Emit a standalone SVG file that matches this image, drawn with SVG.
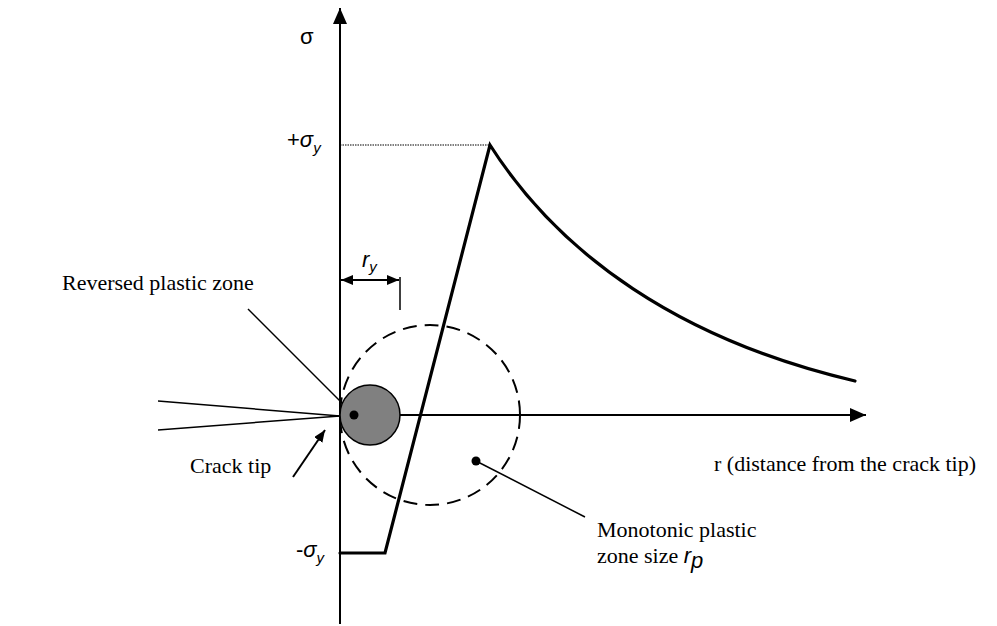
<svg xmlns="http://www.w3.org/2000/svg" width="997" height="626" viewBox="0 0 997 626">
<style>
.ax{stroke:#000;stroke-width:2;fill:none}
.thin{stroke:#000;stroke-width:1.5;fill:none}
.thick{stroke:#000;stroke-width:3.2;fill:none;stroke-linejoin:miter}
.tr{font-family:"Liberation Serif","Times New Roman",serif;font-size:22px;fill:#000}
.ar{font-family:"Liberation Sans",Arial,sans-serif;font-size:22px;fill:#000}
.it{font-style:italic}
</style>
<defs>
<marker id="ah" markerWidth="16" markerHeight="14" refX="16" refY="7" orient="auto" markerUnits="userSpaceOnUse">
<path d="M0,0 L16,7 L0,14 Z" fill="#000"/>
</marker>
<marker id="sm" markerWidth="12" markerHeight="10" refX="12" refY="5" orient="auto-start-reverse" markerUnits="userSpaceOnUse">
<path d="M0,0 L12,5 L0,10 Z" fill="#000"/>
</marker>
</defs>
<g id="connectors">
<line class="ax" x1="340" y1="624" x2="340" y2="8" marker-end="url(#ah)"/>
<line class="ax" x1="340" y1="415" x2="866" y2="415" marker-end="url(#ah)"/>
<line x1="340" y1="145" x2="490" y2="145" stroke="#000" stroke-width="1.2" stroke-dasharray="1.5 1"/>
<path class="thick" d="M340,553 L385,553 L490,145 C560,255 680,340 855,381" stroke-linecap="round"/>
<line class="thin" x1="158" y1="401" x2="340" y2="416"/>
<line class="thin" x1="158" y1="430" x2="340" y2="416"/>
<line class="ax" x1="293" y1="477" x2="325" y2="430" marker-end="url(#sm)"/>
<line class="thin" x1="400" y1="277" x2="400" y2="310" stroke-width="1"/>
<line class="ax" x1="341" y1="280" x2="399" y2="280" marker-start="url(#sm)" marker-end="url(#sm)"/>
<line class="thin" x1="248" y1="309" x2="354" y2="415" stroke-width="2"/>
<line class="thin" x1="476" y1="461" x2="585" y2="517" stroke-width="1.5"/>
</g>
<g id="monotonic-zone">
<circle cx="430" cy="415" r="90" fill="none" stroke="#000" stroke-width="2" stroke-dasharray="14 8"/>
<circle cx="476" cy="461" r="4.5" fill="#000"/>
</g>
<g id="reversed-zone">
<circle cx="370" cy="415" r="30" fill="#808080" stroke="#000" stroke-width="1.5"/>
<circle cx="354" cy="415" r="4.5" fill="#000"/>
</g>
<g id="labels">
<text class="ar" x="300" y="44">σ</text>
<text class="ar" x="287" y="147">+<tspan class="it">σ</tspan><tspan class="it" font-size="15" dy="6">y</tspan></text>
<text class="ar" x="296" y="557">-<tspan class="it">σ</tspan><tspan class="it" font-size="15" dy="6">y</tspan></text>
<text class="ar it" x="362" y="267">r<tspan font-size="15" dy="5">y</tspan></text>
<text class="tr" x="62" y="290">Reversed plastic zone</text>
<text class="tr" x="190" y="473">Crack tip</text>
<text class="tr" x="714" y="471">r (distance from the crack tip)</text>
<text class="tr" x="597" y="537">Monotonic plastic</text>
<text class="tr" x="597" y="563">zone size <tspan class="ar it" font-size="20">r</tspan><tspan class="ar it" font-size="14" dy="5">p</tspan></text>
</g>
</svg>
